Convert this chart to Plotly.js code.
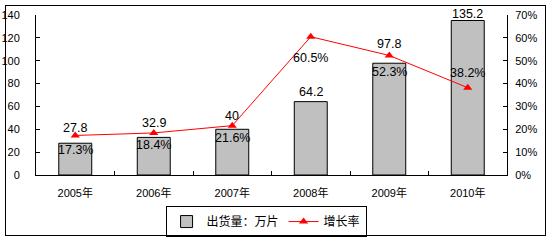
<!DOCTYPE html>
<html><head><meta charset="utf-8">
<script src="https://cdn.plot.ly/plotly-3.0.1.min.js"></script>
<style>
html,body{margin:0;padding:0;background:#fff;}
#wrap{position:relative;width:552px;height:241px;}
#chart{width:552px;height:241px;}
#frame{position:absolute;left:5px;top:5px;width:539px;height:229px;border:1px solid #000;pointer-events:none;}
</style></head>
<body>
<div id="wrap"><div id="chart"></div><div id="frame"></div></div>
<script>
const years = ['2005年','2006年','2007年','2008年','2009年','2010年'];
const shipments = [27.8, 32.9, 40, 64.2, 97.8, 135.2];
const shipmentLabels = ['27.8','32.9','40','64.2','97.8','135.2'];
const growth = [0.173, 0.184, 0.216, 0.605, 0.523, 0.382];
const growthLabels = ['17.3%','18.4%','21.6%','60.5%','52.3%','38.2%'];
const seriesNames = ['出货量：万片','增长率'];

// label placement offsets (px, up = positive), styling only
const barLabelShift = [15, 14, 13, 10, 19, 6];
const lineLabelShift = [-15, -12, -12, -21, -17, 15];

const FONT = 'Liberation Sans, Arial, Noto Sans CJK SC, sans-serif';

const traces = [
  {
    type:'bar', x:years, y:shipments, name:seriesNames[0],
    marker:{color:'#c0c0c0', line:{color:'#000', width:1}},
    width:0.42, hoverinfo:'skip'
  },
  {
    type:'scatter', mode:'lines+markers', x:years, y:growth, yaxis:'y2',
    name:seriesNames[1],
    line:{color:'#ff0000', width:1},
    marker:{symbol:'triangle-up', size:8, color:'#ff0000'},
    cliponaxis:false, hoverinfo:'skip'
  }
];

const annotations = [];
years.forEach((yr, i) => {
  annotations.push({
    x:yr, y:shipments[i], xref:'x', yref:'y', text:shipmentLabels[i],
    showarrow:false, xanchor:'center', yanchor:'middle', yshift:barLabelShift[i],
    font:{family:FONT, size:12.5, color:'#000'}
  });
  annotations.push({
    x:yr, y:growth[i], xref:'x', yref:'y2', text:growthLabels[i],
    showarrow:false, xanchor:'center', yanchor:'middle', yshift:lineLabelShift[i],
    font:{family:FONT, size:12.5, color:'#000'}
  });
});

const layout = {
  width:552, height:241,
  margin:{l:36, r:45, t:15, b:66},
  paper_bgcolor:'#fff', plot_bgcolor:'#fff',
  font:{family:FONT, size:11, color:'#000'},
  showlegend:true,
  annotations:annotations,
  xaxis:{
    type:'category', showline:true, linecolor:'#000', linewidth:1,
    ticks:'inside', tickson:'boundaries', ticklen:4, tickcolor:'#000',
    showgrid:false, zeroline:false, tickfont:{size:11}, fixedrange:true,
    ticklabelstandoff:8, automargin:false
  },
  yaxis:{
    range:[0,140], dtick:20, showline:true, linecolor:'#000', linewidth:1,
    ticks:'inside', ticklen:4, tickcolor:'#000', showgrid:false, zeroline:false,
    tickfont:{size:11}, fixedrange:true, ticklabelstandoff:13, automargin:false
  },
  yaxis2:{
    overlaying:'y', side:'right', range:[0,0.7], dtick:0.1, tickformat:'.0%',
    showline:true, linecolor:'#000', linewidth:1,
    ticks:'inside', ticklen:4, tickcolor:'#000', showgrid:false, zeroline:false,
    tickfont:{size:11}, fixedrange:true, ticklabelstandoff:5, automargin:false
  },
  legend:{
    orientation:'h', xref:'container', yref:'container',
    x:0.482, xanchor:'center', y:0.145, yanchor:'top',
    bordercolor:'#000', borderwidth:1, bgcolor:'#fff',
    font:{family:FONT, size:12, color:'#000'}, traceorder:'normal',
    itemwidth:30
  }
};

Plotly.newPlot('chart', traces, layout, {displayModeBar:false, staticPlot:true});
</script>
</body></html>
